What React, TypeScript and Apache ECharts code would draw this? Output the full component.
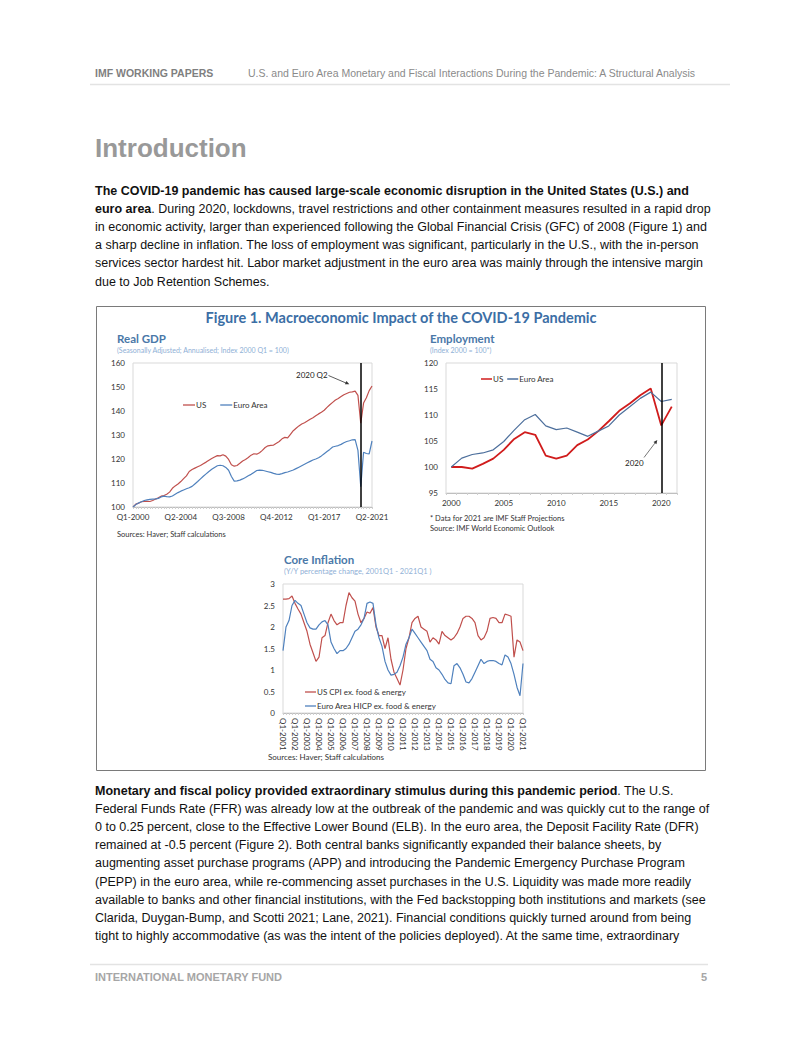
import React, { useEffect, useRef } from "react";
import * as echarts from "echarts";

// ---------- Real GDP (quarterly, Q1-2000 .. Q2-2021, index 2000Q1 = 100) ----------
const gdpUS = [
  100, 101.2, 101.6, 102.2, 102.3, 102.4, 102.3, 102.7, 103.3, 103.8,
  104.5, 104.8, 105.3, 106.2, 107.8, 108.8, 109.6, 110.6, 111.8, 113.0,
  114.8, 115.6, 116.2, 116.8, 117.3, 118.0, 118.7, 119.5, 120.2, 120.8,
  121.4, 121.3, 121.8, 121.2, 119.8, 117.6, 117.0, 117.3, 118.2, 119.2,
  119.8, 120.6, 121.6, 122.2, 122.0, 122.6, 123.6, 124.8, 125.5, 125.7,
  125.8, 126.6, 127.3, 128.4, 129.0, 128.8, 130.3, 131.8, 132.8, 133.8,
  134.6, 135.1, 135.8, 136.6, 137.2, 138.0, 138.8, 139.5, 140.3, 141.5,
  142.6, 143.6, 144.6, 145.2, 146.0, 146.8, 147.3, 147.8, 148.0, 148.3,
  146.5, 134.9, 143.3, 145.5, 148.5, 150.4,
];
const gdpEA = [
  100, 101.0, 101.7, 102.2, 102.7, 103.0, 103.2, 103.3, 103.4, 103.6,
  104.2, 104.5, 104.3, 104.2, 104.6, 105.3, 106.0, 106.6, 107.1, 107.6,
  108.0, 108.6, 109.6, 110.6, 111.7, 112.8, 113.8, 114.8, 115.7, 116.5,
  117.2, 117.4, 117.2, 116.5, 115.3, 112.7, 110.8, 110.9, 111.2, 111.7,
  112.3, 113.0, 113.6, 114.4, 115.2, 115.4, 115.3, 115.0, 114.7, 114.4,
  114.0, 113.7, 113.6, 113.9, 114.3, 114.6, 115.0, 115.4, 116.0, 116.6,
  117.2, 117.8, 118.4, 119.0, 119.6, 120.0, 120.5, 121.3, 122.2, 123.1,
  124.0, 125.0, 125.3, 125.6, 126.1, 126.8, 127.3, 127.6, 128.0, 128.1,
  123.6, 108.5, 122.8, 122.3, 122.1, 127.5,
];
const gdpQuarters: string[] = [];
for (let i = 0; i < gdpUS.length; i++) {
  gdpQuarters.push("Q" + ((i % 4) + 1) + "-" + (2000 + Math.floor(i / 4)));
}
const gdpTicks = [100, 160, 10];

// ---------- Employment (annual, index 2000 = 100) ----------
const empYears = [
  "2000", "2001", "2002", "2003", "2004", "2005", "2006", "2007", "2008", "2009", "2010",
  "2011", "2012", "2013", "2014", "2015", "2016", "2017", "2018", "2019", "2020", "2021",
];
const empUS = [
  100, 100, 99.7, 100.6, 101.6, 103.3, 105.4, 106.7, 106.2, 102.2, 101.6,
  102.2, 104.2, 105.3, 106.9, 108.8, 110.8, 112.2, 113.8, 115.1, 108.0, 111.6,
];
const empEA = [
  100, 101.7, 102.4, 102.7, 103.3, 104.9, 107.1, 109.1, 110.1, 107.9, 107.2,
  107.5, 106.7, 105.9, 106.9, 107.9, 110.0, 111.6, 113.2, 114.4, 112.6, 113.0,
];

// ---------- Core inflation (Y/Y %, 2001Q1 .. 2021Q1) ----------
const inflUS = [
  2.65, 2.65, 2.66, 2.72, 2.55, 2.42, 2.3, 2.1, 1.9, 1.6,
  1.4, 1.2, 1.3, 1.75, 1.8, 2.1, 2.3, 2.15, 2.05, 2.1,
  2.1, 2.5, 2.8, 2.68, 2.6, 2.3, 2.1, 2.2, 2.35, 2.32,
  2.45, 2.0, 1.8, 1.8, 1.5, 1.75, 1.25, 0.95, 0.8, 0.65,
  1.0, 1.5, 1.75, 2.1, 2.2, 2.25, 2.0, 1.95, 1.9, 1.65,
  1.75, 1.7, 1.6, 1.9, 1.8, 1.75, 1.7, 1.75, 1.85, 2.0,
  2.2, 2.25, 2.25, 2.2, 2.1, 1.8, 1.7, 1.75, 1.9, 2.2,
  2.22, 2.2, 2.1, 2.1, 2.3, 2.28, 2.25, 1.3, 1.7, 1.65,
  1.45,
];
const inflEA = [
  1.45, 2.0, 2.15, 2.5, 2.62, 2.55, 2.5, 2.3, 2.1, 1.98,
  1.95, 1.95, 2.05, 2.12, 2.15, 2.05, 1.65, 1.5, 1.38, 1.45,
  1.45, 1.5, 1.6, 1.75, 1.9, 1.95, 2.05, 2.2, 2.55, 2.58,
  2.55, 2.05, 1.75, 1.55, 1.2, 1.0, 0.88, 0.9, 0.95, 1.1,
  1.3, 1.6, 1.75, 1.95, 1.85, 1.75, 1.65, 1.55, 1.45, 1.25,
  1.2, 1.05, 1.0, 0.9, 0.78, 0.7, 0.68, 1.1, 1.15, 1.05,
  0.9, 0.72, 0.7, 0.8, 0.95, 1.1, 1.25, 1.15, 1.2, 1.22,
  1.22, 1.2, 1.15, 1.12, 1.35, 1.3, 1.15, 0.9, 0.6, 0.4,
  1.15,
];
const inflQuarters: string[] = [];
for (let i = 0; i < inflUS.length; i++) {
  inflQuarters.push("Q" + ((i % 4) + 1) + "-" + (2001 + Math.floor(i / 4)));
}

const legendNames: Record<string, string> = {
  gdpUS: "US",
  gdpEA: "Euro Area",
  empUS: "US",
  empEA: "Euro Area",
  inflUS: "US CPI ex. food & energy",
  inflEA: "Euro Area HICP ex. food & energy",
};

// ---------- page text ----------
const para1 = [
  "{b|The COVID-19 pandemic has caused large-scale economic disruption in the United States (U.S.) and}",
  "{b|euro area}. During 2020, lockdowns, travel restrictions and other containment measures resulted in a rapid drop",
  "in economic activity, larger than experienced following the Global Financial Crisis (GFC) of 2008 (Figure 1) and",
  "a sharp decline in inflation. The loss of employment was significant, particularly in the U.S., with the in-person",
  "services sector hardest hit. Labor market adjustment in the euro area was mainly through the intensive margin",
  "due to Job Retention Schemes.",
];
const para2 = [
  "{b|Monetary and fiscal policy provided extraordinary stimulus during this pandemic period}. The U.S.",
  "Federal Funds Rate (FFR) was already low at the outbreak of the pandemic and was quickly cut to the range of",
  "0 to 0.25 percent, close to the Effective Lower Bound (ELB). In the euro area, the Deposit Facility Rate (DFR)",
  "remained at -0.5 percent (Figure 2). Both central banks significantly expanded their balance sheets, by",
  "augmenting asset purchase programs (APP) and introducing the Pandemic Emergency Purchase Program",
  "(PEPP) in the euro area, while re-commencing asset purchases in the U.S. Liquidity was made more readily",
  "available to banks and other financial institutions, with the Fed backstopping both institutions and markets (see",
  "Clarida, Duygan-Bump, and Scotti 2021; Lane, 2021). Financial conditions quickly turned around from being",
  "tight to highly accommodative (as was the intent of the policies deployed). At the same time, extraordinary",
];

const ARIAL = '"Liberation Sans", Arial, sans-serif';
const CAL = 'Lato, "Open Sans", sans-serif';
const PARA_SIZE = 12.5;

function txt(x: number, y: number, text: string, opts: any = {}) {
  return {
    type: "text",
    x,
    y,
    silent: true,
    style: {
      text,
      fontSize: opts.size || PARA_SIZE,
      fontFamily: opts.family || ARIAL,
      fontWeight: opts.weight || "normal",
      fill: opts.fill || "#111",
      align: opts.align || "left",
      verticalAlign: "middle",
      rich: opts.rich,
    },
  };
}

export default function App() {
  const ref = useRef<HTMLDivElement>(null);

  useEffect(() => {
    if (!ref.current) return;
    const chart = echarts.init(ref.current, null, { renderer: "svg" });

    const richB = {
      b: { fontWeight: "bold", fontSize: PARA_SIZE, fontFamily: ARIAL, fill: "#111" },
    };
    const graphics: any[] = [];
    // header
    graphics.push(txt(95, 73, "IMF WORKING PAPERS", { size: 10.5, weight: "bold", fill: "#7f7f7f" }));
    graphics.push(
      txt(248, 73, "U.S. and Euro Area Monetary and Fiscal Interactions During the Pandemic: A Structural Analysis", {
        size: 10.5,
        fill: "#8a8a8a",
      })
    );
    graphics.push({ type: "line", shape: { x1: 90, y1: 84.5, x2: 730, y2: 84.5 }, style: { stroke: "#e3e3e3", lineWidth: 1.5 } });
    graphics.push(txt(95, 148, "Introduction", { size: 26, weight: "bold", fill: "#999999" }));
    para1.forEach((l, i) => graphics.push(txt(95, 190.5 + i * 18.2, l, { rich: richB })));
    para2.forEach((l, i) => graphics.push(txt(95, 791 + i * 18.1, l, { rich: richB })));
    // footer
    graphics.push({ type: "line", shape: { x1: 90, y1: 964.5, x2: 708, y2: 964.5 }, style: { stroke: "#e3e3e3", lineWidth: 1.5 } });
    graphics.push(txt(95, 977, "INTERNATIONAL MONETARY FUND", { size: 11, weight: "bold", fill: "#a6a6a6" }));
    graphics.push(txt(707, 977, "5", { size: 11, weight: "bold", fill: "#a6a6a6", align: "right" }));

    // figure frame
    graphics.push({ type: "rect", shape: { x: 96.5, y: 306.5, width: 609, height: 464 }, style: { fill: "none", stroke: "#7a7a7a", lineWidth: 1 } });
    graphics.push(
      txt(401, 317, "Figure 1. Macroeconomic Impact of the COVID-19 Pandemic", {
        size: 14.5,
        weight: "bold",
        family: CAL,
        fill: "#3b6ea5",
        align: "center",
      })
    );
    // panel titles
    const tBlue = "#4a78a8";
    const sBlue = "#8fb0d6";
    graphics.push(txt(117, 338, "Real GDP", { size: 11.5, weight: "bold", family: CAL, fill: tBlue }));
    graphics.push(txt(117, 350, "(Seasonally Adjusted; Annualised; Index 2000 Q1 = 100)", { size: 7, family: CAL, fill: sBlue }));
    graphics.push(txt(117, 534, "Sources: Haver; Staff calculations", { size: 7.5, family: CAL, fill: "#333" }));
    graphics.push(txt(430, 338, "Employment", { size: 11.5, weight: "bold", family: CAL, fill: tBlue }));
    graphics.push(txt(430, 350, "(Index 2000 = 100*)", { size: 7, family: CAL, fill: sBlue }));
    graphics.push(txt(430, 518, "* Data for 2021 are IMF Staff Projections", { size: 7.5, family: CAL, fill: "#333" }));
    graphics.push(txt(430, 528, "Source: IMF World Economic Outlook", { size: 7.5, family: CAL, fill: "#333" }));
    graphics.push(txt(284, 559, "Core Inflation", { size: 11.5, weight: "bold", family: CAL, fill: tBlue }));
    graphics.push(txt(284, 571, "(Y/Y percentage change, 2001Q1 - 2021Q1 )", { size: 7.5, family: CAL, fill: sBlue }));
    graphics.push(txt(268, 757, "Sources: Haver; Staff calculations", { size: 8, family: CAL, fill: "#333" }));

    // annotations
    graphics.push(txt(296, 374.5, "2020 Q2", { size: 8, family: CAL, fill: "#222" }));
    graphics.push({ type: "line", shape: { x1: 328.5, y1: 375.5, x2: 346, y2: 383 }, style: { stroke: "#333", lineWidth: 0.8 } });
    graphics.push({ type: "polygon", shape: { points: [[349.3, 384.3], [344.9, 384.3], [346.4, 381.1]] }, style: { fill: "#333" } });
    graphics.push(txt(625, 463, "2020", { size: 8, family: CAL, fill: "#222" }));
    graphics.push({ type: "line", shape: { x1: 644, y1: 457.5, x2: 655, y2: 443 }, style: { stroke: "#555", lineWidth: 0.8 } });
    graphics.push({ type: "polygon", shape: { points: [[657.3, 440], [656.4, 444.3], [653.5, 442.1]] }, style: { fill: "#333" } });

    const axisText = { fontSize: 8, color: "#333", fontFamily: CAL };
    const gridStyle = { show: true, borderColor: "#d9d9d9", borderWidth: 1, backgroundColor: "transparent" };
    const vline = (val: string) => ({
      silent: true,
      symbol: ["none", "none"],
      label: { show: false },
      lineStyle: { color: "#000", width: 1.5, type: "solid" },
      data: [{ xAxis: val }],
    });

    const option: any = {
      animation: false,
      backgroundColor: "#fff",
      grid: [
        { left: 133, top: 363, width: 239, height: 144, ...gridStyle },
        { left: 446, top: 363, width: 231, height: 130, ...gridStyle },
        { left: 283, top: 584, width: 240, height: 129, ...gridStyle },
      ],
      xAxis: [
        {
          type: "category",
          gridIndex: 0,
          data: gdpQuarters,
          boundaryGap: false,
          axisLine: { lineStyle: { color: "#bfbfbf" } },
          axisTick: { show: true, interval: 0, length: 2, lineStyle: { color: "#cfcfcf" } },
          axisLabel: { ...axisText, interval: 16, margin: 6 },
          splitLine: { show: false },
        },
        {
          type: "category",
          gridIndex: 1,
          data: empYears,
          boundaryGap: true,
          axisLine: { lineStyle: { color: "#bfbfbf" } },
          axisTick: { show: true, interval: 0, length: 2, lineStyle: { color: "#cfcfcf" } },
          axisLabel: { ...axisText, interval: 4, margin: 6 },
          splitLine: { show: false },
        },
        {
          type: "category",
          gridIndex: 2,
          data: inflQuarters,
          boundaryGap: false,
          axisLine: { lineStyle: { color: "#bfbfbf" } },
          axisTick: { show: true, interval: 0, length: 2, lineStyle: { color: "#cfcfcf" } },
          axisLabel: { ...axisText, interval: 3, rotate: -90, margin: 5 },
          splitLine: { show: false },
        },
      ],
      yAxis: [
        {
          type: "value",
          gridIndex: 0,
          min: gdpTicks[0],
          max: gdpTicks[1],
          interval: gdpTicks[2],
          axisLine: { show: false },
          axisTick: { show: false },
          splitLine: { show: false },
          axisLabel: { ...axisText, margin: 8 },
        },
        {
          type: "value",
          gridIndex: 1,
          min: 95,
          max: 120,
          interval: 5,
          axisLine: { show: false },
          axisTick: { show: false },
          splitLine: { show: false },
          axisLabel: { ...axisText, margin: 8 },
        },
        {
          type: "value",
          gridIndex: 2,
          min: 0,
          max: 3,
          interval: 0.5,
          axisLine: { show: false },
          axisTick: { show: false },
          splitLine: { show: false },
          axisLabel: { ...axisText, margin: 8 },
        },
      ],
      legend: [
        {
          data: ["gdpUS", "gdpEA"],
          left: 178,
          top: 396,
          icon: "rect",
          itemWidth: 12,
          itemHeight: 1.3,
          itemGap: 14,
          formatter: (n: string) => legendNames[n],
          textStyle: { ...axisText, padding: [0, 0, 0, -4] },
          selectedMode: false,
        },
        {
          data: ["empUS", "empEA"],
          left: 476,
          top: 370,
          icon: "rect",
          itemWidth: 11,
          itemHeight: 1.5,
          itemGap: 4,
          formatter: (n: string) => legendNames[n],
          textStyle: { ...axisText, padding: [0, 0, 0, -4] },
          selectedMode: false,
        },
        {
          data: ["inflUS", "inflEA"],
          left: 300,
          top: 683,
          orient: "vertical",
          icon: "rect",
          itemWidth: 11,
          itemHeight: 1.3,
          itemGap: 6,
          formatter: (n: string) => legendNames[n],
          textStyle: { ...axisText, padding: [0, 0, 0, -4] },
          selectedMode: false,
        },
      ],
      graphic: graphics,
      series: [
        {
          name: "gdpUS",
          type: "line",
          xAxisIndex: 0,
          yAxisIndex: 0,
          data: gdpUS,
          symbol: "none",
          lineStyle: { color: "#c0504d", width: 1.2 },
          itemStyle: { color: "#c0504d" },
          z: 3,
        },
        {
          name: "gdpEA",
          type: "line",
          xAxisIndex: 0,
          yAxisIndex: 0,
          data: gdpEA,
          symbol: "none",
          lineStyle: { color: "#4f81bd", width: 1.2 },
          itemStyle: { color: "#4f81bd" },
          markLine: vline("Q2-2020"),
          z: 3,
        },
        {
          name: "empUS",
          type: "line",
          xAxisIndex: 1,
          yAxisIndex: 1,
          data: empUS,
          symbol: "none",
          lineStyle: { color: "#d01c1c", width: 1.8 },
          itemStyle: { color: "#d01c1c" },
          z: 3,
        },
        {
          name: "empEA",
          type: "line",
          xAxisIndex: 1,
          yAxisIndex: 1,
          data: empEA,
          symbol: "none",
          lineStyle: { color: "#4d6f9c", width: 1.2 },
          itemStyle: { color: "#4d6f9c" },
          markLine: vline("2020"),
          z: 3,
        },
        {
          name: "inflUS",
          type: "line",
          xAxisIndex: 2,
          yAxisIndex: 2,
          data: inflUS,
          symbol: "none",
          lineStyle: { color: "#c0504d", width: 1.2 },
          itemStyle: { color: "#c0504d" },
        },
        {
          name: "inflEA",
          type: "line",
          xAxisIndex: 2,
          yAxisIndex: 2,
          data: inflEA,
          symbol: "none",
          lineStyle: { color: "#4f81bd", width: 1.2 },
          itemStyle: { color: "#4f81bd" },
        },
      ],
    };
    chart.setOption(option);
    return () => chart.dispose();
  }, []);

  return (
    <div
      ref={ref}
      style={{ position: "absolute", left: 0, top: 0, width: 802, height: 1037, background: "#fff" }}
    />
  );
}
